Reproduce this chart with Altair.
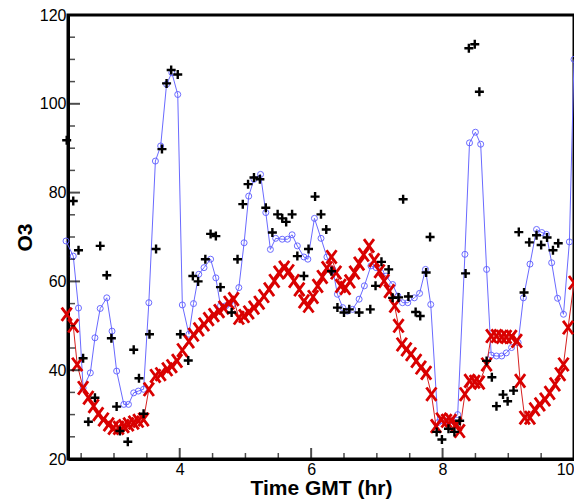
import altair as alt
import pandas as pd

# Red series (X markers)
red_t = [2.28, 2.38, 2.44, 2.53, 2.61, 2.69, 2.76, 2.84, 2.92, 2.99, 3.07, 3.15, 3.22, 3.30, 3.37, 3.45,
         3.53, 3.63, 3.71, 3.81, 3.88, 3.96, 4.04, 4.14, 4.21, 4.29, 4.37, 4.44, 4.52, 4.60, 4.67, 4.75,
         4.82, 4.90, 4.98, 5.05, 5.13, 5.21, 5.28, 5.36, 5.44, 5.51, 5.59, 5.66, 5.74, 5.82, 5.89, 5.96,
         6.03, 6.10, 6.17, 6.24, 6.31, 6.38, 6.45, 6.52, 6.59, 6.66, 6.73, 6.80, 6.88, 6.96, 7.04, 7.11,
         7.19, 7.27, 7.33, 7.38, 7.45, 7.52, 7.60, 7.67, 7.75, 7.83, 7.90, 7.98, 8.06, 8.13, 8.21, 8.26,
         8.34, 8.41, 8.49, 8.56, 8.67, 8.74, 8.82, 8.90, 8.97, 9.05, 9.13, 9.18, 9.25, 9.33, 9.40, 9.48,
         9.56, 9.63, 9.71, 9.79, 9.84, 9.91, 10.0]
red_o3 = [52.6, 50.0, 41.3, 36.0, 33.8, 31.9, 30.1, 28.9, 27.8, 27.0, 27.0, 27.4, 27.8, 28.2, 28.6, 28.9,
          35.7, 38.7, 39.1, 40.2, 40.9, 42.1, 44.5, 46.5, 48.0, 49.2, 50.3, 51.5, 52.4, 53.3, 54.1, 55.2,
          56.0, 51.8, 52.2, 53.0, 54.1, 55.2, 56.7, 58.2, 60.1, 62.0, 63.1, 62.3, 60.1, 58.2, 55.5, 54.5,
          56.5, 59.0, 61.0, 63.0, 65.5, 62.0, 59.0, 58.5, 60.0, 62.0, 64.0, 66.0, 68.0, 64.8, 62.3, 60.1,
          57.8, 54.5, 50.0, 45.8, 44.7, 43.6, 42.1, 40.6, 39.4, 34.6, 27.4, 28.9, 28.6, 28.6, 27.8, 26.3,
          34.6, 37.6, 37.4, 37.2, 41.3, 47.7, 47.7, 47.5, 47.5, 47.5, 46.6, 37.6, 29.3, 29.3, 31.2, 32.3,
          33.4, 34.9, 36.8, 39.1, 41.3, 49.6, 59.7]

# Blue series (line with open circles)
blue_t = [2.27, 2.38, 2.46, 2.53, 2.64, 2.71, 2.79, 2.89, 2.97, 3.04, 3.15, 3.22, 3.30, 3.37, 3.45, 3.53,
          3.63, 3.71, 3.80, 3.88, 3.97, 4.04, 4.14, 4.21, 4.29, 4.37, 4.47, 4.55, 4.62, 4.70, 4.80, 4.90,
          4.98, 5.05, 5.13, 5.23, 5.31, 5.38, 5.46, 5.56, 5.64, 5.71, 5.79, 5.89, 5.95, 6.05, 6.15, 6.24,
          6.33, 6.40, 6.48, 6.55, 6.63, 6.73, 6.81, 6.91, 6.99, 7.06, 7.14, 7.24, 7.32, 7.39, 7.47, 7.57,
          7.65, 7.74, 7.82, 7.93, 8.00, 8.08, 8.15, 8.23, 8.34, 8.41, 8.50, 8.58, 8.67, 8.74, 8.82, 8.90,
          8.97, 9.05, 9.15, 9.23, 9.33, 9.43, 9.51, 9.58, 9.66, 9.75, 9.84, 9.93, 10.0]
blue_o3 = [69.1, 65.7, 54.0, 36.0, 39.4, 47.3, 53.9, 56.3, 48.8, 39.8, 32.3, 32.3, 34.9, 35.3, 35.7, 55.2,
           87.1, 90.5, 104.4, 107.0, 102.1, 54.7, 48.1, 55.0, 61.6, 63.1, 65.0, 60.8, 54.5, 54.5, 54.8, 58.6,
           68.7, 79.2, 83.0, 84.1, 75.5, 67.2, 69.7, 69.5, 69.5, 70.5, 68.0, 65.5, 65.0, 74.2, 69.7, 65.5,
           62.7, 57.1, 54.1, 53.3, 53.7, 56.0, 59.0, 63.5, 63.1, 62.0, 61.2, 59.3, 56.7, 55.2, 55.2, 56.3,
           57.3, 62.7, 54.8, 28.2, 28.6, 28.6, 28.6, 30.0, 66.1, 91.2, 93.6, 90.9, 62.7, 43.4, 43.2, 43.2,
           43.9, 45.1, 46.2, 56.3, 63.9, 71.7, 71.0, 70.6, 64.2, 56.2, 52.6, 68.9, 110.0]

# Black series (+ markers)
black_t = [2.28, 2.38, 2.46, 2.53, 2.61, 2.71, 2.79, 2.89, 2.96, 3.04, 3.09, 3.21, 3.30, 3.38, 3.45, 3.54,
           3.64, 3.73, 3.80, 3.87, 3.97, 4.01, 4.13, 4.20, 4.28, 4.39, 4.47, 4.55, 4.62, 4.79, 4.88, 4.96,
           5.04, 5.13, 5.22, 5.31, 5.41, 5.49, 5.56, 5.62, 5.71, 5.79, 5.89, 5.96, 6.06, 6.15, 6.23, 6.31,
           6.40, 6.50, 6.58, 6.73, 6.90, 6.98, 7.07, 7.18, 7.24, 7.33, 7.40, 7.48, 7.59, 7.66, 7.75, 7.81,
           7.91, 7.99, 8.09, 8.18, 8.26, 8.35, 8.40, 8.49, 8.56, 8.67, 8.75, 8.82, 8.92, 8.99, 9.08, 9.16,
           9.24, 9.32, 9.43, 9.50, 9.59, 9.68, 9.76]
black_o3 = [91.8, 78.1, 67.0, 42.7, 28.4, 33.8, 68.0, 61.4, 47.2, 31.8, 26.3, 23.9, 44.6, 38.2, 30.2, 48.1,
            67.3, 89.8, 104.6, 107.6, 106.6, 48.1, 42.2, 61.2, 60.0, 65.0, 70.7, 70.2, 58.7, 53.0, 65.0, 77.4,
            81.9, 83.4, 83.0, 76.6, 71.0, 75.1, 74.2, 73.4, 75.1, 65.7, 61.2, 67.3, 79.1, 75.1, 71.7, 62.3,
            54.1, 53.0, 53.7, 53.0, 53.7, 59.0, 64.4, 62.7, 56.3, 56.4, 78.5, 56.6, 53.1, 52.2, 62.0, 70.0,
            26.1, 24.4, 26.8, 26.1, 28.6, 61.8, 112.5, 113.4, 102.7, 42.1, 38.4, 31.9, 34.5, 33.0, 35.4, 71.1,
            57.5, 68.8, 70.4, 68.2, 69.9, 67.0, 68.6]

# Axis ticks
x_labels = [4, 6, 8, 10]
x_minor = [2.5, 3.0, 3.5, 4.5, 5.0, 5.5, 6.5, 7.0, 7.5, 8.5, 9.0, 9.5]
y_labels = [20, 40, 60, 80, 100, 120]
y_minor = [25, 30, 35, 45, 50, 55, 65, 70, 75, 85, 90, 95, 105, 110, 115]

W, H = 506, 444

red_df = pd.DataFrame({"t": red_t, "o3": red_o3})
blue_df = pd.DataFrame({"t": blue_t, "o3": blue_o3})
black_df = pd.DataFrame({"t": black_t, "o3": black_o3})

xscale = alt.Scale(domain=[2.3, 10], nice=False, zero=False)
yscale = alt.Scale(domain=[20, 120], nice=False, zero=False)

X = alt.X("t:Q", scale=xscale, title="Time GMT (hr)",
          axis=alt.Axis(values=x_labels, format="d", grid=False, ticks=False,
                        domainColor="black", domainWidth=3,
                        labelFontSize=16, titleFontSize=21, titlePadding=0))
Y = alt.Y("o3:Q", scale=yscale, title="O3",
          axis=alt.Axis(values=y_labels, format="d", grid=False, ticks=False,
                        domainColor="black", domainWidth=3,
                        labelFontSize=16, titleFontSize=21))

PLUS = "M-1,0L1,0M0,-1L0,1"
CROSS = "M-0.75,-1L0.75,1M-0.75,1L0.75,-1"

blue_line = alt.Chart(blue_df).mark_line(color="#6a6aff", strokeWidth=1).encode(x=X, y=Y)
blue_pts = alt.Chart(blue_df).mark_point(shape="circle", filled=False, size=36, color="#5c5cff",
                                          strokeWidth=1).encode(x="t:Q", y="o3:Q",
                                                                opacity=alt.value(0.9))
red_line = alt.Chart(red_df).mark_line(color="#d62020", strokeWidth=1).encode(x="t:Q", y="o3:Q")
red_pts = alt.Chart(red_df).mark_point(shape=CROSS, filled=False, size=180, color="#d90000",
                                        strokeWidth=2.8).encode(x="t:Q", y="o3:Q",
                                                                opacity=alt.value(1))
black_pts = alt.Chart(black_df).mark_point(shape=PLUS, filled=False, size=81, color="black",
                                            strokeWidth=2.4).encode(x="t:Q", y="o3:Q",
                                                                    opacity=alt.value(1))

ymaj = alt.Chart(pd.DataFrame({"v": y_labels})).mark_tick(color="black", thickness=2, size=12).encode(
    y=alt.Y("v:Q", scale=yscale), x=alt.value(6))
ymin = alt.Chart(pd.DataFrame({"v": y_minor})).mark_tick(color="black", thickness=1.5, size=7).encode(
    y=alt.Y("v:Q", scale=yscale), x=alt.value(3.5))
xmaj = alt.Chart(pd.DataFrame({"v": x_labels})).mark_tick(color="black", thickness=2, size=11).encode(
    x=alt.X("v:Q", scale=xscale), y=alt.value(H - 5.5))
xmin = alt.Chart(pd.DataFrame({"v": x_minor})).mark_tick(color="black", thickness=1.5, size=6).encode(
    x=alt.X("v:Q", scale=xscale), y=alt.value(H - 3))

chart = alt.layer(blue_line, blue_pts, red_line, red_pts, black_pts, ymaj, ymin, xmaj, xmin).properties(
    width=W, height=H, autosize="none",
    padding={"left": 60, "top": 7, "right": 0, "bottom": 40},
).configure_view(stroke="black", strokeWidth=3)

chart.save("out.html", embed_options={"renderer": "svg", "actions": False})
